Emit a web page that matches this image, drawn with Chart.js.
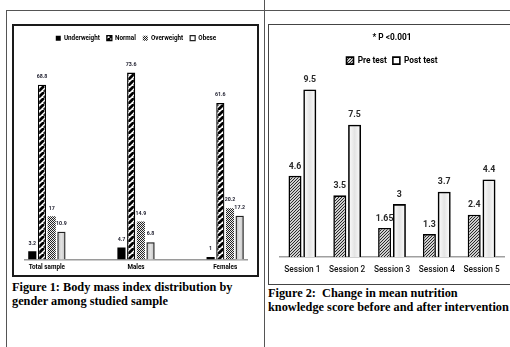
<!DOCTYPE html>
<html>
<head>
<meta charset="utf-8">
<script src="https://cdn.jsdelivr.net/npm/chart.js@4/dist/chart.umd.min.js"></script>
<style>
  html, body { margin: 0; padding: 0; background: #fff; width: 510px; height: 347px; overflow: hidden; }
  body { position: relative; }
  .rule { position: absolute; background: #555; }
  .box { position: absolute; box-sizing: border-box; }
  #box1 { left: 12px; top: 24px; width: 247px; height: 253px; border: 2px solid #1a1a1a; }
  #box2 { left: 268px; top: 24px; width: 250px; height: 261px; border: 1.5px solid #444; }
  canvas { position: absolute; }
  #c1 { left: 14px; top: 26px; }
  #c2 { left: 270px; top: 26px; }
  .cap { position: absolute; font-family: "Liberation Serif", "Times New Roman", serif; font-weight: bold;
         font-size: 12.3px; line-height: 14px; color: #000; white-space: nowrap; }
</style>
</head>
<body>
<div class="rule" style="left:6px;top:10px;width:504px;height:1px"></div>
<div class="rule" style="left:6px;top:10px;width:1px;height:337px"></div>
<div class="rule" style="left:264px;top:0;width:1px;height:347px"></div>
<div class="box" id="box1"></div>
<div class="box" id="box2"></div>
<canvas id="c1" width="243" height="249"></canvas>
<canvas id="c2" width="240" height="257"></canvas>
<div class="cap" style="left:12px;top:280px">Figure 1: Body mass index distribution by<br>gender among studied sample</div>
<div class="cap" style="left:268px;top:286px">Figure 2:&nbsp; Change in mean nutrition<br>knowledge score before and after intervention</div>

<script>
// ---- Figure 1: BMI distribution (%) ----
const bmiGroups   = ['Total sample', 'Males', 'Females'];
const underweight = [3.2, 4.7, 1];
const normal      = [68.8, 73.6, 61.6];
const overweight  = [17, 14.9, 20.2];
const obese       = [10.9, 6.8, 17.2];

// ---- Figure 2: mean nutrition knowledge score ----
const sessions = ['Session 1', 'Session 2', 'Session 3', 'Session 4', 'Session 5'];
const preTest  = [4.6, 3.5, 1.65, 1.3, 2.4];
const postTest = [9.5, 7.5, 3, 3.7, 4.4];

const SANS = "Roboto, 'DejaVu Sans', sans-serif";

// diagonal "/" stripe fill
function stripes(size, bg, fg, lw) {
  const c = document.createElement('canvas');
  c.width = c.height = size;
  const g = c.getContext('2d');
  g.fillStyle = bg; g.fillRect(0, 0, size, size);
  g.strokeStyle = fg; g.lineWidth = lw;
  g.beginPath();
  for (let k = -1; k <= 1; k++) { g.moveTo(k * size, size); g.lineTo(k * size + size, 0); }
  g.stroke();
  return g.createPattern(c, 'repeat');
}
// small checker / dot fill
function checker(size, bg, fg) {
  const c = document.createElement('canvas');
  c.width = c.height = size * 2;
  const g = c.getContext('2d');
  g.fillStyle = bg; g.fillRect(0, 0, size * 2, size * 2);
  g.fillStyle = fg;
  g.fillRect(0, 0, size, size); g.fillRect(size, size, size, size);
  return g.createPattern(c, 'repeat');
}

// value printed above each bar
const valueLabels = {
  id: 'valueLabels',
  afterDatasetsDraw(chart, args, opts) {
    const ctx = chart.ctx;
    ctx.save();
    ctx.font = opts.font;
    ctx.fillStyle = opts.color;
    ctx.textAlign = 'center';
    ctx.textBaseline = 'middle';
    chart.data.datasets.forEach((ds, di) => {
      const meta = chart.getDatasetMeta(di);
      meta.data.forEach((bar, i) => {
        const raw = ds.data[i];
        const v = (raw !== null && typeof raw === 'object') ? raw.y : raw;
        ctx.fillText(String(v), bar.x, bar.y - opts.offset);
      });
    });
    ctx.restore();
  }
};

// soft vertical sheen inside selected bars, painted before the bars' outlines
const barSheen = {
  id: 'barSheen',
  beforeDatasetsDraw(chart, args, opts) {
    const ctx = chart.ctx;
    (opts.sets || []).forEach(s => {
      const meta = chart.getDatasetMeta(s.index);
      meta.data.forEach(bar => {
        const l = bar.x - bar.width / 2, r = bar.x + bar.width / 2;
        const gr = ctx.createLinearGradient(l, 0, r, 0);
        gr.addColorStop(0, s.edge);
        gr.addColorStop(0.5, s.mid);
        gr.addColorStop(1, s.edge);
        ctx.fillStyle = gr;
        ctx.fillRect(l, Math.min(bar.y, bar.base), bar.width, Math.abs(bar.base - bar.y));
      });
    });
  }
};

const pts = arr => arr.map((v, i) => ({ x: i, y: v }));

new Chart(document.getElementById('c1'), {
  type: 'bar',
  data: {
    datasets: [
      { label: 'Underweight', data: pts(underweight), backgroundColor: '#000', borderColor: '#000', borderWidth: 0 },
      { label: 'Normal', data: pts(normal), backgroundColor: stripes(6, '#fff', '#000', 2.8), borderColor: '#000', borderWidth: 1.3 },
      { label: 'Overweight', data: pts(overweight), backgroundColor: checker(1, '#eeeeee', '#222'), borderColor: '#555', borderWidth: 0 },
      { label: 'Obese', data: pts(obese), backgroundColor: 'rgba(0,0,0,0)', borderColor: '#222', borderWidth: 1.2 }
    ]
  },
  options: {
    responsive: false,
    animation: false,
    devicePixelRatio: 1,
    layout: { padding: { left: 11, right: 10, top: 2, bottom: 0 } },
    datasets: { bar: { categoryPercentage: 0.435, barPercentage: 0.84 } },
    scales: {
      x: {
        type: 'linear', min: -0.245, max: 2.245, offset: false,
        afterBuildTicks: s => { s.ticks = bmiGroups.map((_, i) => ({ value: i })); },
        grid: { display: false, drawTicks: false },
        border: { display: true, color: '#9a9a9a', width: 1.5 },
        ticks: { autoSkip: false, maxRotation: 0, padding: 4, color: '#000',
                 font: { family: SANS, size: 6.3, weight: 'bold' },
                 callback: v => bmiGroups[v] }
      },
      y: { display: false, min: 0, max: 82 }
    },
    plugins: {
      legend: {
        position: 'top',
        labels: { boxWidth: 5, boxHeight: 5, padding: 7, color: '#000',
                  font: { family: SANS, size: 6.3, weight: 'bold' } }
      },
      tooltip: { enabled: false },
      valueLabels: { font: "bold 5.3px " + SANS, color: '#1c1c2c', offset: 8 },
      barSheen: { sets: [{ index: 3, edge: '#c2c2c2', mid: '#e2e2e2' }] }
    }
  },
  plugins: [valueLabels, barSheen]
});

new Chart(document.getElementById('c2'), {
  type: 'bar',
  data: {
    labels: sessions,
    datasets: [
      { label: 'Pre test', data: preTest, backgroundColor: stripes(3, '#cfcfcf', '#2a2a2a', 1), borderColor: '#000', borderWidth: 1.6 },
      { label: 'Post test', data: postTest, backgroundColor: 'rgba(0,0,0,0)', borderColor: '#000', borderWidth: 1.6 }
    ]
  },
  options: {
    responsive: false,
    animation: false,
    devicePixelRatio: 1,
    layout: { padding: { left: 10, right: 6, top: 0, bottom: 0 } },
    datasets: { bar: { categoryPercentage: 0.66, barPercentage: 0.88 } },
    scales: {
      x: {
        grid: { display: false, drawTicks: false },
        border: { display: true, color: '#a0a0a0', width: 1.5 },
        ticks: { autoSkip: false, maxRotation: 0, padding: 8, color: '#111',
                 font: { family: SANS, size: 8.3, weight: '500' } }
      },
      y: { display: false, min: 0, max: 10.33 }
    },
    plugins: {
      title: { display: true, text: '* P <0.001', color: '#000',
               font: { family: SANS, size: 8.3, weight: 'bold' }, padding: { top: 7, bottom: 7.5 } },
      legend: {
        position: 'top',
        labels: { boxWidth: 7, boxHeight: 7, padding: 6, color: '#000',
                  font: { family: SANS, size: 8.3, weight: 'bold' } }
      },
      tooltip: { enabled: false },
      valueLabels: { font: "bold 8.8px " + SANS, color: '#2a2a2a', offset: 9.5 },
      barSheen: { sets: [{ index: 1, edge: '#ffffff', mid: '#e4e4e4' }] }
    }
  },
  plugins: [valueLabels, barSheen]
});
</script>
</body>
</html>
